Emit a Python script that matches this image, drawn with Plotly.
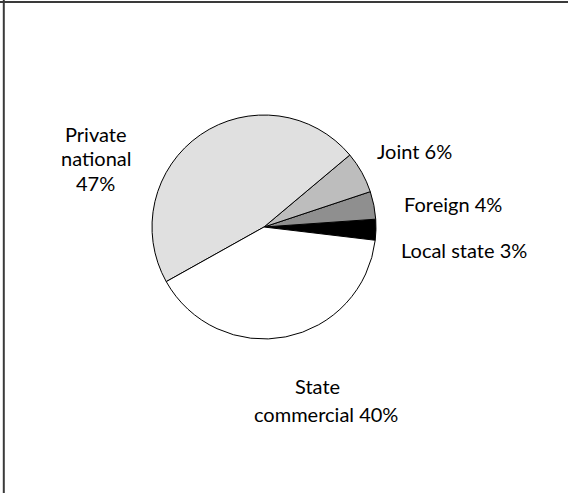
import plotly.graph_objects as go

# Ownership shares (percent), drawn counterclockwise starting just below east
labels = ["Local state", "Foreign", "Joint", "Private national", "State commercial"]
values = [3, 4, 6, 47, 40]
colors = ["#000000", "#8f8f8f", "#bdbdbd", "#e0e0e0", "#ffffff"]

W, H = 568, 493
cx, cy, r = 264, 227, 112  # pie centre and radius in pixels

fig = go.Figure(
    go.Pie(
        labels=labels,
        values=values,
        sort=False,
        direction="counterclockwise",
        rotation=86,
        marker=dict(colors=colors, line=dict(color="#000000", width=1)),
        textinfo="none",
        hoverinfo="label+percent",
        showlegend=False,
        domain=dict(
            x=[(cx - r) / W, (cx + r) / W],
            y=[1 - (cy + r) / H, 1 - (cy - r) / H],
        ),
    )
)

# Slice labels: (text, centre x px, centre y px)
label_lines = [
    ("Private", 95.5, 134),
    ("national", 96, 158),
    (f"{values[3]}%", 95, 183),
    (f"{labels[2]} {values[2]}%", 414, 151),
    (f"{labels[1]} {values[1]}%", 453, 204),
    (f"{labels[0]} {values[0]}%", 464, 249.5),
    ("State", 317.5, 386),
    (f"commercial {values[4]}%", 326, 414),
]

annotations = [
    dict(
        text=t, x=x / W, y=1 - y / H, xref="paper", yref="paper",
        xanchor="center", yanchor="middle", showarrow=False,
        font=dict(family="Lato", size=20, color="#000000"),
    )
    for t, x, y in label_lines
]

# Frame edges along the top and left
shapes = [
    dict(type="line", xref="paper", yref="paper", x0=0, x1=1,
         y0=1 - 2 / H, y1=1 - 2 / H, line=dict(color="#3a3a3a", width=2)),
    dict(type="line", xref="paper", yref="paper", x0=3.8 / W, x1=3.8 / W,
         y0=0, y1=1, line=dict(color="#3a3a3a", width=2)),
]

fig.update_layout(
    width=W, height=H,
    margin=dict(l=0, r=0, t=0, b=0),
    paper_bgcolor="#ffffff",
    plot_bgcolor="#ffffff",
    annotations=annotations,
    shapes=shapes,
)

fig.write_html("out.html")
